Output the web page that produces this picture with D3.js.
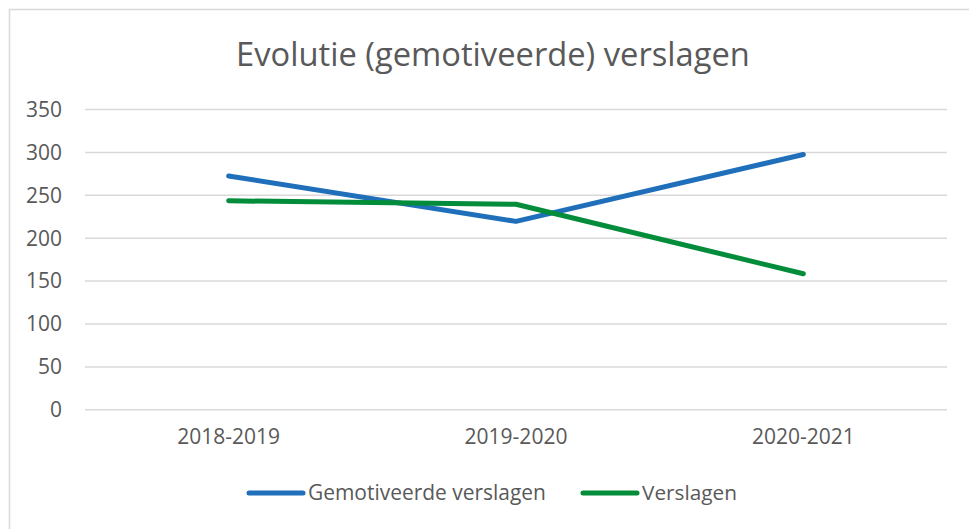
<!DOCTYPE html>
<html>
<head>
<meta charset="utf-8">
<script src="https://cdn.jsdelivr.net/npm/d3@7"></script>
<style>
  body { margin: 0; background: #fff; }
  svg { display: block; font-family: "Open Sans", Lato, sans-serif; }
</style>
</head>
<body>
<svg></svg>
<script>
// chart data
const years = ["2018-2019", "2019-2020", "2020-2021"];
const gemotiveerd = [272, 219, 297];
const verslagen = [243, 239, 158];
const yTicks = [0, 50, 100, 150, 200, 250, 300, 350];
const seriesNames = ["Gemotiveerde verslagen", "Verslagen"];
const seriesColors = ["#1f6fba", "#038c3a"];

const width = 969, height = 529;
const svg = d3.select("svg").attr("width", width).attr("height", height);

const marginLeft = 85, marginRight = 22, plotTop = 109, plotBottom = 409.3;
const font = '"Open Sans", Lato, sans-serif';

// shrink/grow a text node so it spans the given width (the original used Calibri)
function fitWidth(sel, target) {
  sel.each(function() {
    const fs = parseFloat(d3.select(this).attr("font-size"));
    const w = this.getComputedTextLength();
    d3.select(this).attr("font-size", (fs * target / w).toFixed(2) + "px");
  });
}

// outer chart border
svg.append("rect")
  .attr("x", 9.5).attr("y", 9.5)
  .attr("width", width + 10).attr("height", height + 10)
  .attr("fill", "#fff")
  .attr("stroke", "#d9d9d9")
  .attr("stroke-width", 1.5);

const x = d3.scaleBand().domain(years).range([marginLeft, width - marginRight]);
const y = d3.scaleLinear().domain([0, 350]).range([plotBottom, plotTop]);

// gridlines + y labels
const yAxis = svg.append("g")
  .attr("transform", `translate(${marginLeft},0)`)
  .call(d3.axisLeft(y).tickValues(yTicks).tickSize(-(width - marginRight - marginLeft)).tickPadding(23))
  .attr("font-family", font);
yAxis.select(".domain").remove();
yAxis.selectAll(".tick line").attr("stroke", "#d9d9d9").attr("stroke-width", 1.5);
yAxis.selectAll(".tick text").attr("fill", "#595959").attr("font-size", "18px").attr("dy", "0.35em");
fitWidth(yAxis.selectAll(".tick text").filter(d => d === 350), 36);
const yFs = yAxis.selectAll(".tick text").filter(d => d === 350).attr("font-size");
yAxis.selectAll(".tick text").attr("font-size", yFs);

// x labels
const xAxis = svg.append("g")
  .attr("transform", `translate(0,${plotBottom})`)
  .call(d3.axisBottom(x).tickSize(0).tickPadding(20))
  .attr("font-family", font);
xAxis.select(".domain").remove();
xAxis.selectAll(".tick text").attr("fill", "#595959").attr("font-size", "18px");
fitWidth(xAxis.selectAll(".tick text"), 103);

// lines
const line = d3.line()
  .x((d, i) => x(years[i]) + x.bandwidth() / 2)
  .y(d => y(d));

[gemotiveerd, verslagen].forEach((vals, i) => {
  svg.append("path")
    .datum(vals)
    .attr("d", line)
    .attr("fill", "none")
    .attr("stroke", seriesColors[i])
    .attr("stroke-width", 5)
    .attr("stroke-linecap", "round")
    .attr("stroke-linejoin", "round");
});

// title
svg.append("text")
  .attr("x", 493).attr("y", 66)
  .attr("text-anchor", "middle")
  .attr("fill", "#595959")
  .attr("font-size", "31px")
  .text("Evolutie (gemotiveerde) verslagen")
  .call(fitWidth, 514);

// legend
const legendX = [249, 583];
const legend = svg.append("g");
seriesNames.forEach((name, i) => {
  legend.append("line")
    .attr("x1", legendX[i]).attr("x2", legendX[i] + 54)
    .attr("y1", 493).attr("y2", 493)
    .attr("stroke", seriesColors[i])
    .attr("stroke-width", 5)
    .attr("stroke-linecap", "round");
  const t = legend.append("text")
    .attr("x", legendX[i] + 59).attr("y", 499.5)
    .attr("fill", "#595959")
    .attr("font-size", "18px")
    .text(name);
  if (i === 0) t.call(fitWidth, 238);
  else t.call(fitWidth, 95);
});
</script>
</body>
</html>
